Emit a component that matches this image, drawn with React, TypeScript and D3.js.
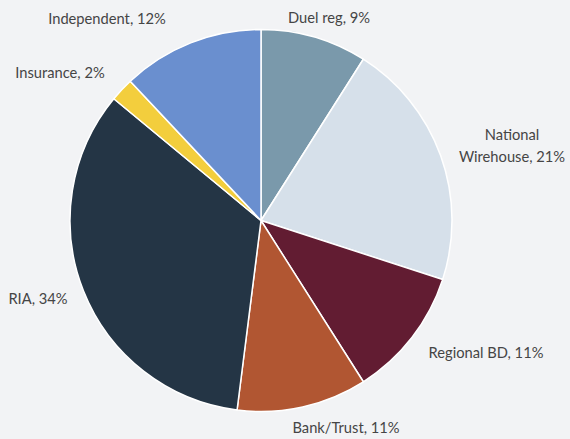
import React from "react";
import * as d3 from "d3";

const categories = ["Duel reg", "National Wirehouse", "Regional BD", "Bank/Trust", "RIA", "Insurance", "Independent"];
const values = [9, 21, 11, 11, 34, 2, 12];
const colors = ["#7a99ab", "#d6e0ea", "#621c32", "#b15632", "#243545", "#f3ce3d", "#6a8fcf"];
const labelLines = [
  ["Duel reg, 9%"],
  ["National", "Wirehouse, 21%"],
  ["Regional BD, 11%"],
  ["Bank/Trust, 11%"],
  ["RIA, 34%"],
  ["Insurance, 2%"],
  ["Independent, 12%"],
];
// label centre positions (layout)
const labelPos: [number, number][] = [
  [329, 18],
  [512, 135],
  [486, 353],
  [346, 428],
  [38, 299],
  [60, 73],
  [107, 19],
];

export default function App() {
  const W = 570, H = 439;
  const cx = 261, cy = 220.5, r = 191;
  const pie = d3.pie<number>().sort(null).value((d) => d);
  const arcs = pie(values);
  const arc = d3.arc<d3.PieArcDatum<number>>().innerRadius(0).outerRadius(r);
  return (
    <svg width={W} height={H} style={{ position: "absolute", left: 0, top: 0, background: "#f2f3f5" }}>
      <rect width={W} height={H} fill="#f2f3f5" />
      <g transform={`translate(${cx},${cy})`}>
        {arcs.map((a, i) => (
          <path key={categories[i]} d={arc(a) || ""} fill={colors[i]} stroke="#ffffff" strokeWidth={1.5} strokeLinejoin="round" />
        ))}
      </g>
      {labelLines.map((lines, i) => (
        <text key={i} x={labelPos[i][0]} y={labelPos[i][1]} textAnchor="middle" fontFamily="Lato, 'Open Sans', sans-serif" fontSize={14.7} fill="#454545">
          {lines.map((l, j) => (
            <tspan key={j} x={labelPos[i][0]} dy={j === 0 ? "0.35em" : 22}>{l}</tspan>
          ))}
        </text>
      ))}
    </svg>
  );
}
